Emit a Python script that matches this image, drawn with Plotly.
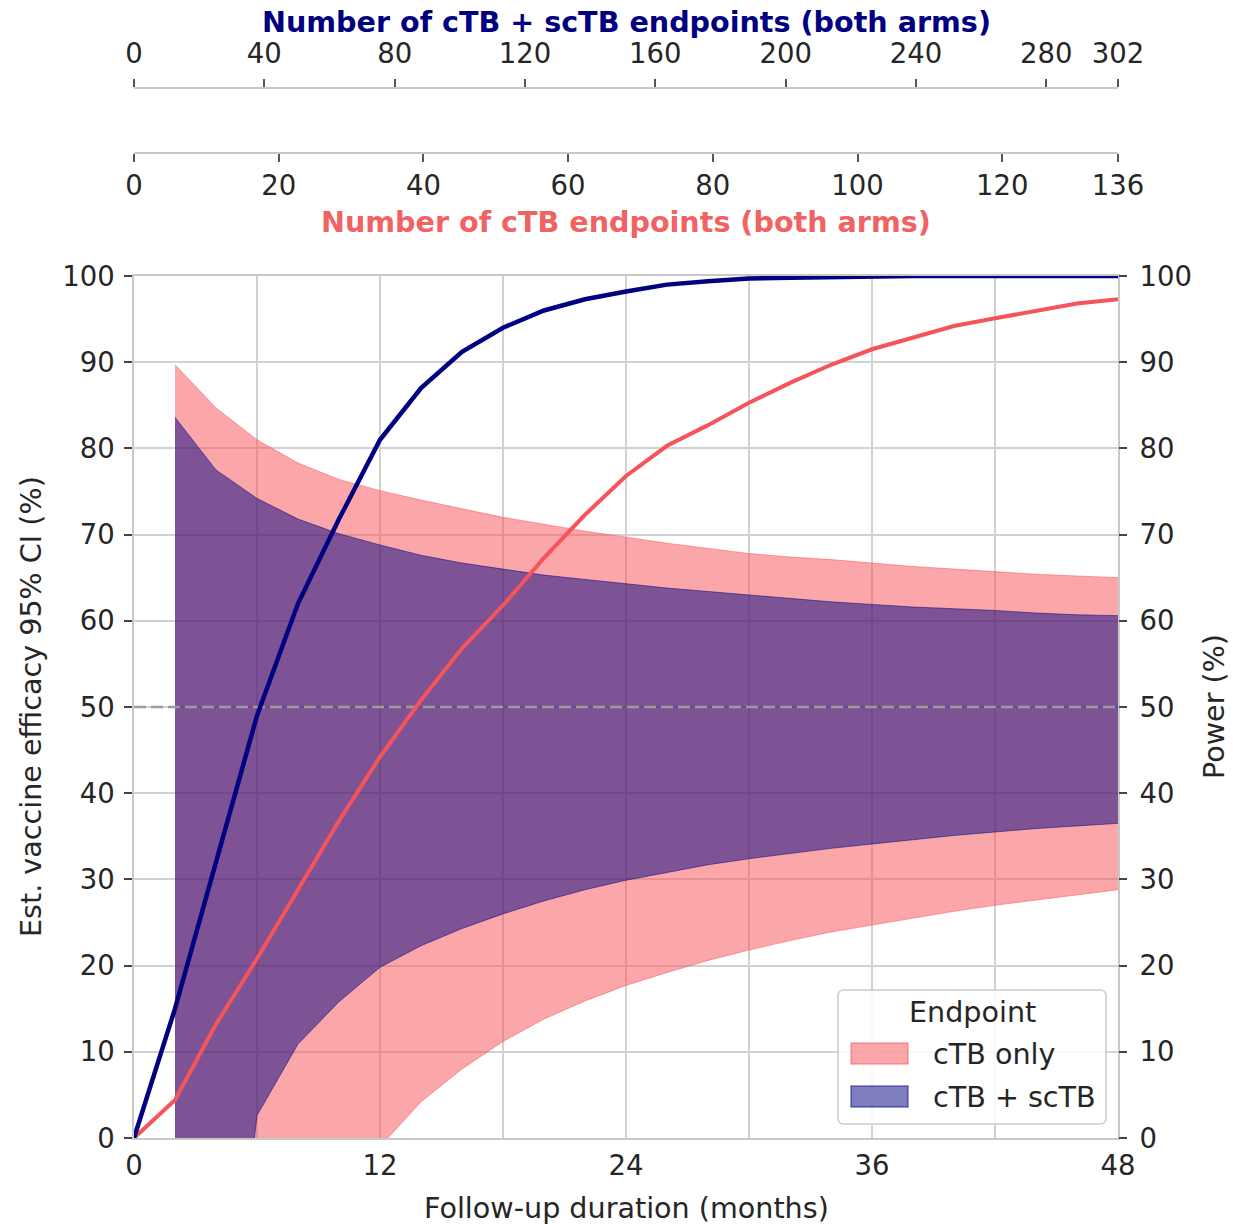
import plotly.graph_objects as go

# Follow-up time (months) at which the 95% CI of vaccine efficacy is evaluated
months_ci = [2, 4, 6, 8, 10, 12, 14, 16, 18, 20, 22, 24,
             26, 28, 30, 32, 34, 36, 38, 40, 42, 44, 46, 48]

# cTB-only endpoint: 95% CI bounds of estimated vaccine efficacy (%)
ctb_upper = [89.7, 84.7, 81.0, 78.3, 76.4, 75.1, 74.0, 73.0, 72.0, 71.2, 70.4, 69.7,
             69.0, 68.4, 67.8, 67.4, 67.1, 66.7, 66.3, 66.0, 65.7, 65.4, 65.2, 65.0]
ctb_lower = [-250.0, -150.0, -60.0, -25.0, -9.0, -1.0, 4.2, 8.0, 11.2, 13.8, 15.9, 17.7,
             19.2, 20.6, 21.8, 22.9, 23.9, 24.7, 25.5, 26.3, 27.0, 27.6, 28.2, 28.8]

# cTB + scTB endpoint: 95% CI bounds of estimated vaccine efficacy (%)
comb_upper = [83.6, 77.5, 74.2, 71.8, 70.1, 68.8, 67.6, 66.7, 66.0, 65.3, 64.8, 64.3,
              63.8, 63.4, 63.0, 62.6, 62.2, 61.9, 61.6, 61.4, 61.2, 60.9, 60.7, 60.6]
comb_lower = [-160.0, -40.0, 2.6, 10.9, 15.8, 19.8, 22.3, 24.3, 26.0, 27.5, 28.8, 29.9,
              30.8, 31.7, 32.4, 33.0, 33.6, 34.1, 34.6, 35.1, 35.5, 35.9, 36.2, 36.5]

# Statistical power (%) by follow-up duration
months_power = [0, 2, 4, 6, 8, 10, 12, 14, 16, 18, 20, 22, 24,
                26, 28, 30, 32, 34, 36, 38, 40, 42, 44, 46, 48]
power_ctb = [0.0, 4.4, 13.2, 20.8, 28.8, 36.8, 44.2, 50.8, 56.8, 61.8, 67.3, 72.3, 76.8,
             80.3, 82.7, 85.3, 87.6, 89.7, 91.5, 92.9, 94.2, 95.1, 96.0, 96.8, 97.3]
power_comb = [0.0, 15.0, 32.0, 49.0, 62.0, 71.8, 81.0, 87.0, 91.2, 94.0, 96.0, 97.3, 98.2,
              99.0, 99.4, 99.7, 99.8, 99.9, 99.95, 100.0, 100.0, 100.0, 100.0, 100.0, 100.0]

# Efficacy threshold drawn as a dashed reference line
ve_threshold = 50

# Axis ticks
month_ticks = [0, 6, 12, 18, 24, 30, 36, 42, 48]
month_labels = ["0", "", "12", "", "24", "", "36", "", "48"]
ctb_count_ticks = [0, 20, 40, 60, 80, 100, 120, 136]
comb_count_ticks = [0, 40, 80, 120, 160, 200, 240, 280, 302]
pct_ticks = [0, 10, 20, 30, 40, 50, 60, 70, 80, 90, 100]

# Styling
FONT = "DejaVu Sans"
FS_TICK = 27.5
FS = 28.6
TXT = "#262626"
RED = "#F5545A"
NAVY = "#000080"
PINK_FILL = "rgba(247,79,85,0.5)"
NAVY_FILL = "rgba(0,0,128,0.5)"
GRID = "#d2d2d2"
SPINE = "#c8c8c8"

W, H = 1233, 1224
ML, MR, MT, MB = 134, 115, 10, 86
PW = W - ML - MR
PH = H - MT - MB
PLOT_TOP = 276


def px(x):
    return (x - ML) / PW


def py(y):
    return (H - MB - y) / PH


main_top = py(PLOT_TOP)

fig = go.Figure()

# cTB-only CI band
fig.add_trace(go.Scatter(x=months_ci, y=ctb_lower, mode="lines",
                         line=dict(color=PINK_FILL, width=1),
                         showlegend=False, hoverinfo="skip"))
fig.add_trace(go.Scatter(x=months_ci, y=ctb_upper, mode="lines", fill="tonexty",
                         fillcolor=PINK_FILL, line=dict(color=PINK_FILL, width=1),
                         name="cTB only", showlegend=False))

# cTB + scTB CI band
fig.add_trace(go.Scatter(x=months_ci, y=comb_lower, mode="lines",
                         line=dict(color=NAVY_FILL, width=1),
                         showlegend=False, hoverinfo="skip"))
fig.add_trace(go.Scatter(x=months_ci, y=comb_upper, mode="lines", fill="tonexty",
                         fillcolor=NAVY_FILL, line=dict(color=NAVY_FILL, width=1),
                         name="cTB + scTB", showlegend=False))

# 50% efficacy reference
fig.add_trace(go.Scatter(x=[months_power[0], months_power[-1]],
                         y=[ve_threshold, ve_threshold], mode="lines",
                         line=dict(color="#9c9c9c", width=2.5, dash="12px,5px"),
                         showlegend=False, hoverinfo="skip"))

# Power curves (right axis)
fig.add_trace(go.Scatter(x=months_power, y=power_ctb, mode="lines", yaxis="y2",
                         line=dict(color=RED, width=4), name="Power cTB",
                         showlegend=False))
fig.add_trace(go.Scatter(x=months_power, y=power_comb, mode="lines", yaxis="y2",
                         line=dict(color=NAVY, width=4.5), name="Power cTB + scTB",
                         showlegend=False))

# Carriers for the endpoint-count axes
fig.add_trace(go.Scatter(x=ctb_count_ticks, y=[None] * len(ctb_count_ticks),
                         xaxis="x2", yaxis="y", mode="markers",
                         showlegend=False, hoverinfo="skip"))
fig.add_trace(go.Scatter(x=comb_count_ticks, y=[None] * len(comb_count_ticks),
                         xaxis="x3", yaxis="y", mode="markers",
                         showlegend=False, hoverinfo="skip"))

tickfont = dict(family=FONT, size=FS_TICK, color=TXT)

fig.update_layout(
    width=W, height=H,
    margin=dict(l=ML, r=MR, t=MT, b=MB, autoexpand=False),
    paper_bgcolor="white", plot_bgcolor="white",
    font=dict(family=FONT, size=FS, color=TXT),
    showlegend=False,
    xaxis=dict(range=[0, 48], domain=[0, 1], anchor="y", automargin=False,
               tickmode="array", tickvals=month_ticks, ticktext=month_labels,
               ticks="", ticklabelstandoff=2,
               tickfont=tickfont,
               showgrid=True, gridcolor=GRID, gridwidth=1.5,
               showline=True, linecolor=SPINE, linewidth=1.5, mirror=True,
               zeroline=False),
    yaxis=dict(range=[0, 100], domain=[0, main_top], anchor="x", automargin=False,
               tickmode="array", tickvals=pct_ticks,
               ticks="outside", ticklen=8, tickwidth=1.5, tickcolor="#444",
               ticklabelstandoff=4,
               tickfont=tickfont,
               showgrid=True, gridcolor=GRID, gridwidth=1.5,
               showline=True, linecolor=SPINE, linewidth=1.5, mirror=True,
               zeroline=False),
    yaxis2=dict(range=[0, 100], overlaying="y", side="right", anchor="x",
                automargin=False,
                tickmode="array", tickvals=pct_ticks,
                ticks="outside", ticklen=8, tickwidth=1.5, tickcolor="#444",
                ticklabelstandoff=7,
                tickfont=tickfont, showgrid=False, zeroline=False),
    xaxis2=dict(range=[0, 136], overlaying="x", anchor="free", position=py(153),
                automargin=False,
                side="bottom", tickmode="array", tickvals=ctb_count_ticks,
                ticks="outside", ticklen=8, tickwidth=1.5, tickcolor="#555",
                tickfont=tickfont, showgrid=False, zeroline=False,
                showline=True, linecolor=SPINE, linewidth=1.5),
    xaxis3=dict(range=[0, 302], overlaying="x", anchor="free", position=py(88),
                automargin=False,
                side="top", tickmode="array", tickvals=comb_count_ticks,
                ticks="outside", ticklen=8, tickwidth=1.5, tickcolor="#555",
                ticklabelstandoff=5,
                tickfont=tickfont, showgrid=False, zeroline=False,
                showline=True, linecolor=SPINE, linewidth=1.5),
)

# Axis titles
annots = [
    dict(text="<b>Number of cTB + scTB endpoints (both arms)</b>", x=px(626), y=py(22),
         font=dict(family=FONT, size=FS, color=NAVY)),
    dict(text="<b>Number of cTB endpoints (both arms)</b>", x=px(626), y=py(222),
         font=dict(family=FONT, size=FS, color="#F26262")),
    dict(text="Follow-up duration (months)", x=px(626), y=py(1208),
         font=dict(family=FONT, size=FS, color=TXT)),
    dict(text="Est. vaccine efficacy 95% CI (%)", x=px(31), y=py(707), textangle=-90,
         font=dict(family=FONT, size=FS, color=TXT)),
    dict(text="Power (%)", x=px(1214), y=py(707), textangle=-90,
         font=dict(family=FONT, size=FS, color=TXT)),
]
for a in annots:
    fig.add_annotation(xref="paper", yref="paper", showarrow=False,
                       xanchor="center", yanchor="middle", **a)


# Legend box
def rounded_rect(x0, y0, x1, y1, r):
    rx, ry = r / PW, r / PH
    X0, X1 = px(x0), px(x1)
    Y0, Y1 = py(y1), py(y0)
    return (f"M{X0 + rx},{Y0} L{X1 - rx},{Y0} Q{X1},{Y0} {X1},{Y0 + ry} "
            f"L{X1},{Y1 - ry} Q{X1},{Y1} {X1 - rx},{Y1} "
            f"L{X0 + rx},{Y1} Q{X0},{Y1} {X0},{Y1 - ry} "
            f"L{X0},{Y0 + ry} Q{X0},{Y0} {X0 + rx},{Y0} Z")


fig.add_shape(type="path", xref="paper", yref="paper", layer="above",
              path=rounded_rect(838, 990, 1106, 1124, 6),
              fillcolor="rgba(255,255,255,0.85)", line=dict(color="#cccccc", width=1.5))
legend_items = [("cTB only", PINK_FILL, 1043, 1064),
                ("cTB + scTB", NAVY_FILL, 1086, 1107)]
for label, col, y0, y1 in legend_items:
    fig.add_shape(type="rect", xref="paper", yref="paper", layer="above",
                  x0=px(851), x1=px(908), y0=py(y1), y1=py(y0),
                  fillcolor=col, line=dict(color=col, width=1.5))
    fig.add_annotation(xref="paper", yref="paper", showarrow=False,
                       x=px(931), y=py((y0 + y1) / 2), xanchor="left", yanchor="middle",
                       text=label, font=dict(family=FONT, size=FS, color=TXT))
fig.add_annotation(xref="paper", yref="paper", showarrow=False,
                   x=px(972), y=py(1012), xanchor="center", yanchor="middle",
                   text="Endpoint", font=dict(family=FONT, size=FS, color=TXT))

fig.write_html("out.html")
